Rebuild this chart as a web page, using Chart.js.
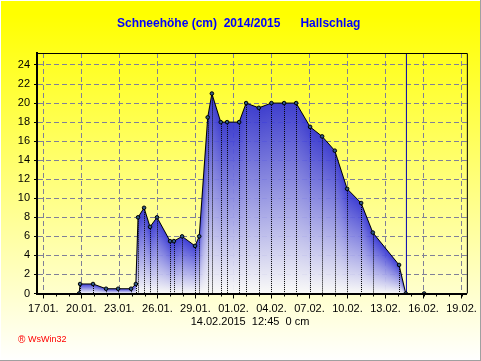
<!DOCTYPE html>
<html>
<head>
<meta charset="utf-8">
<title>Schneehöhe</title>
<script src="https://cdn.jsdelivr.net/npm/chart.js@4"></script>
<style>
  html, body { margin: 0; padding: 0; background: #fff; }
  canvas { display: block; }
</style>
</head>
<body>
<canvas id="schneeChart" width="481" height="361"></canvas>
<script>
// Tage seit dem 17.01. und Schneehoehe in cm
const tage = [0, 2.82, 2.9, 3.92, 4.95, 5.9, 6.92, 7.3, 7.47, 7.95, 8.42, 8.97, 10, 10.3, 10.95, 11.97, 12.3, 12.97, 13.3, 14, 14.5, 15.45, 16, 17, 18, 19, 19.95, 21.05, 22, 23, 23.97, 25.08, 26, 28.07, 28.6, 30.05, 33.42];
const schnee = [0, 0, 1, 1, 0.5, 0.5, 0.5, 1, 8, 9, 7, 8, 5.5, 5.5, 6, 5, 6, 18.5, 21, 18, 18, 18, 20, 19.5, 20, 20, 20, 17.5, 16.5, 15, 11, 9.5, 6.4, 3, 0, 0, 0];
const xLabels = ['17.01.', '20.01.', '23.01.', '26.01.', '29.01.', '01.02.', '04.02.', '07.02.', '10.02.', '13.02.', '16.02.', '19.02.'];
const jetztX = [28.65, 28.65];
const jetztY = [0, 25.26];

const titel = 'Schneehöhe (cm)  2014/2015      Hallschlag';
const stand = '14.02.2015  12:45  0 cm';
const logo = 'WsWin32';

// Hintergrund, Spaltenverlauf, Fallinien und Texte
const wetterPlugin = {
  id: 'wetterPlugin',
  beforeDraw(chart) {
    const c = chart.ctx;
    const w = chart.width, h = chart.height;
    const bg = c.createLinearGradient(0, 0, 0, h);
    bg.addColorStop(0.04, '#ffff00');
    bg.addColorStop(1, '#ffffff');
    c.save();
    c.fillStyle = bg;
    c.fillRect(0, 0, w, h);
    c.fillStyle = '#ffffff';
    c.fillRect(0, 0, w, 1);
    c.fillRect(0, 0, 1, h);
    c.fillStyle = '#a0a0a0';
    c.fillRect(0, h - 1, w, 1);
    c.fillRect(w - 1, 0, 1, h);
    c.restore();
  },
  beforeDatasetsDraw(chart) {
    const c = chart.ctx;
    const pts = chart.getDatasetMeta(0).data;
    const y0 = chart.scales.y.getPixelForValue(0);
    c.save();
    // jede Pixelspalte hat ihren eigenen Verlauf von der Kurve bis zur Null
    for (let i = 0; i < pts.length - 1; i++) {
      const a = pts[i], b = pts[i + 1];
      for (let x = Math.round(a.x); x < Math.round(b.x); x++) {
        const t = (x + 0.5 - a.x) / (b.x - a.x);
        const top = a.y + (b.y - a.y) * t;
        if (y0 - top < 1) continue;
        const g = c.createLinearGradient(0, top, 0, y0);
        g.addColorStop(0, 'rgba(48,48,216,0.93)');
        g.addColorStop(1, 'rgba(250,250,250,0.95)');
        c.fillStyle = g;
        c.fillRect(x, top, 1, y0 - top);
      }
    }
    // gepunktete Linien unter den Messpunkten
    c.strokeStyle = '#000000';
    c.lineWidth = 1;
    c.setLineDash([1, 1]);
    pts.forEach(p => {
      if (y0 - p.y < 1) return;
      const x = Math.round(p.x) + 0.5;
      c.beginPath();
      c.moveTo(x, p.y);
      c.lineTo(x, y0);
      c.stroke();
    });
    c.restore();
  },
  afterDraw(chart) {
    const c = chart.ctx;
    const area = chart.chartArea;
    const sx = chart.scales.x;
    const y0 = chart.scales.y.getPixelForValue(0);
    c.save();
    // Rahmen oben und rechts
    c.strokeStyle = '#000000';
    c.lineWidth = 1;
    c.beginPath();
    c.moveTo(area.left, area.top + 0.5);
    c.lineTo(area.right + 0.5, area.top + 0.5);
    c.lineTo(area.right + 0.5, area.bottom);
    c.stroke();
    // kleine Striche fuer die Tage
    for (let d = 0; d <= 33; d++) {
      const x = Math.round(sx.getPixelForValue(d)) + 0.5;
      c.beginPath();
      c.moveTo(x, y0 + 1);
      c.lineTo(x, y0 + 3);
      c.stroke();
    }
    c.textBaseline = 'middle';
    c.fillStyle = '#0000ff';
    c.font = 'bold 12px "Liberation Sans"';
    c.textAlign = 'left';
    c.fillText(titel, 117, 24);
    c.fillStyle = '#000000';
    c.font = '11px "Liberation Sans"';
    c.textAlign = 'center';
    c.fillText(stand, 250, 322);
    c.fillStyle = '#ff0000';
    c.font = '10px "Liberation Sans"';
    c.textAlign = 'left';
    c.fillText('®', 18, 340);
    c.font = '9px "Liberation Sans"';
    c.fillText(logo, 28, 340);
    c.restore();
  }
};

const ctx = document.getElementById('schneeChart');

new Chart(ctx, {
  type: 'line',
  data: {
    datasets: [
      {
        data: tage.map((t, i) => ({ x: t, y: schnee[i] })),
        borderColor: '#000000',
        borderWidth: 1,
        lineTension: 0,
        fill: false,
        pointRadius: c => (c.dataIndex === 0 || c.dataIndex === tage.length - 1) ? 0 : 1.8,
        pointBackgroundColor: '#305a88',
        pointBorderColor: '#000000',
        pointBorderWidth: 1
      },
      {
        data: jetztX.map((t, i) => ({ x: t, y: jetztY[i] })),
        borderColor: '#0000b0',
        borderWidth: 1,
        pointRadius: 0
      }
    ]
  },
  options: {
    responsive: false,
    animation: false,
    layout: { padding: { top: 53, right: 14, left: 0, bottom: 0 } },
    scales: {
      x: {
        type: 'linear',
        min: -0.5,
        max: 33.42,
        afterFit(scale) { scale.height = 67.5; },
        grid: { color: '#808098', tickColor: '#000000', tickLength: 5 },
        border: { color: '#000000', width: 2, dash: [5, 3], z: 1 },
        ticks: {
          stepSize: 3,
          includeBounds: false,
          autoSkip: false,
          maxRotation: 0,
          padding: 4,
          color: '#000000',
          font: { family: '"Liberation Sans"', size: 11 },
          callback: v => xLabels[v / 3]
        }
      },
      y: {
        min: 0,
        max: 25.26,
        afterFit(scale) { scale.width = 37; },
        grid: { color: '#808098', tickColor: '#000000', tickLength: 3 },
        border: { color: '#000000', width: 2, dash: [5, 3], z: 1 },
        ticks: {
          stepSize: 2,
          includeBounds: false,
          padding: 4,
          color: '#000000',
          font: { family: '"Liberation Sans"', size: 11 }
        }
      }
    },
    plugins: {
      legend: { display: false },
      title: { display: false },
      tooltip: { enabled: false }
    }
  },
  plugins: [wetterPlugin]
});
</script>
</body>
</html>
